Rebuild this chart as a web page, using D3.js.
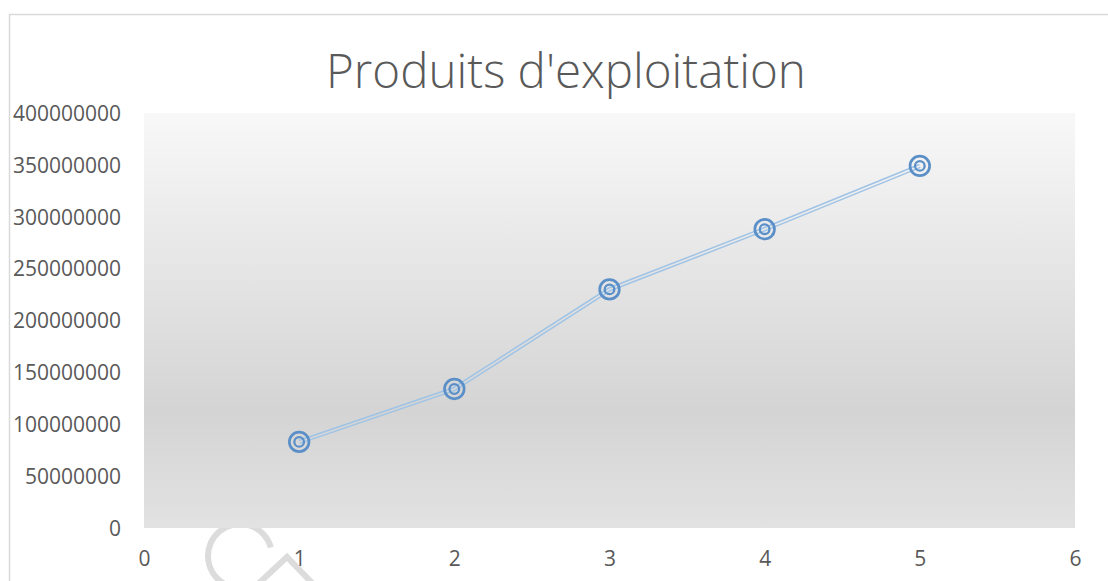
<!DOCTYPE html>
<html><head><meta charset="utf-8">
<script src="https://cdn.jsdelivr.net/npm/d3@7"></script>
<style>body{margin:0;background:#fff}svg{display:block}</style>
</head><body>
<svg id="c" width="1108" height="581"></svg>
<script>
const title = "Produits d'exploitation";
const xValues = [1, 2, 3, 4, 5];
const yValues = [83000000, 134000000, 230000000, 288000000, 349000000];
const xTicks = [0, 1, 2, 3, 4, 5, 6];
const yTicks = [0, 50000000, 100000000, 150000000, 200000000, 250000000, 300000000, 350000000, 400000000];

const svg = d3.select("#c");
const W = 1108, H = 581;
const m = {left: 144, right: 1075, top: 113, bottom: 528};

const defs = svg.append("defs");
const g = defs.append("linearGradient").attr("id","bg")
  .attr("gradientUnits","userSpaceOnUse")
  .attr("x1",0).attr("y1",m.top).attr("x2",0).attr("y2",m.bottom);
g.append("stop").attr("offset","0%").attr("stop-color","#f8f8f8");
g.append("stop").attr("offset","72%").attr("stop-color","#d4d4d4");
g.append("stop").attr("offset","100%").attr("stop-color","#e2e2e2");

// chart border
svg.append("rect").attr("x",9.5).attr("y",14.5).attr("width",W+20).attr("height",H+20)
  .attr("fill","#fff").attr("stroke","#d9d9d9").attr("stroke-width",1.5);

const x = d3.scaleLinear().domain([0,6]).range([m.left,m.right]);
const y = d3.scaleLinear().domain([0,400000000]).range([m.bottom,m.top]);

// faint watermark fragment at bottom (behind plot area)
const wm = svg.append("g").attr("fill","none").attr("stroke","#dcdcdc").attr("stroke-width",6);
wm.append("path").attr("transform","translate(240,556)")
  .attr("d", d3.arc().innerRadius(32).outerRadius(32).startAngle(1.3).endAngle(-2.7)());
wm.append("path").attr("d","M258,584 L287,557 L313,584");

svg.append("rect").attr("x",m.left).attr("y",m.top)
  .attr("width",m.right-m.left).attr("height",m.bottom-m.top).attr("fill","url(#bg)");

// title
const t = svg.append("text").attr("x",566).attr("y",88).attr("text-anchor","middle")
  .attr("font-family","'Open Sans'").attr("font-weight",300).attr("font-size",48)
  .attr("fill","#595959").text(title);
const tw = t.node().getComputedTextLength();
t.attr("font-size", 48*480/tw);

// y axis
const yAxis = d3.axisLeft(y).tickValues(yTicks).tickSize(0).tickPadding(0).tickFormat(d3.format("d"));
const ya = svg.append("g").attr("transform",`translate(121,0)`).call(yAxis);
ya.select(".domain").remove();
ya.selectAll("text").attr("font-family","'Open Sans'").attr("font-size",21).attr("fill","#595959").attr("dy","0.35em");

// x axis
const xAxis = d3.axisBottom(x).tickValues(xTicks).tickSize(0).tickPadding(0).tickFormat(d3.format("d"));
const xa = svg.append("g").attr("transform",`translate(0,559)`).call(xAxis);
xa.select(".domain").remove();
xa.selectAll("text").attr("font-family","'Open Sans'").attr("font-size",21).attr("fill","#595959").attr("dy","0.35em");

// line (compound double line)
const data = xValues.map((v,i)=>({x:v,y:yValues[i]}));
const line = d3.line().x(d=>x(d.x)).y(d=>y(d.y));
svg.append("path").datum(data).attr("d",line).attr("fill","none")
  .attr("stroke","#9fc3e6").attr("stroke-width",4.5);
svg.append("path").datum(data).attr("d",line).attr("fill","none")
  .attr("stroke","url(#bg)").attr("stroke-width",1.6);

// markers
const mk = svg.append("g").selectAll("g").data(data).join("g")
  .attr("transform",d=>`translate(${x(d.x)},${y(d.y)})`);
mk.append("circle").attr("r",9.8).attr("fill","none").attr("stroke","#5b8fc8").attr("stroke-width",2.7);
mk.append("circle").attr("r",4.8).attr("fill","none").attr("stroke","#5b8fc8").attr("stroke-width",2.3);
</script>
</body></html>
